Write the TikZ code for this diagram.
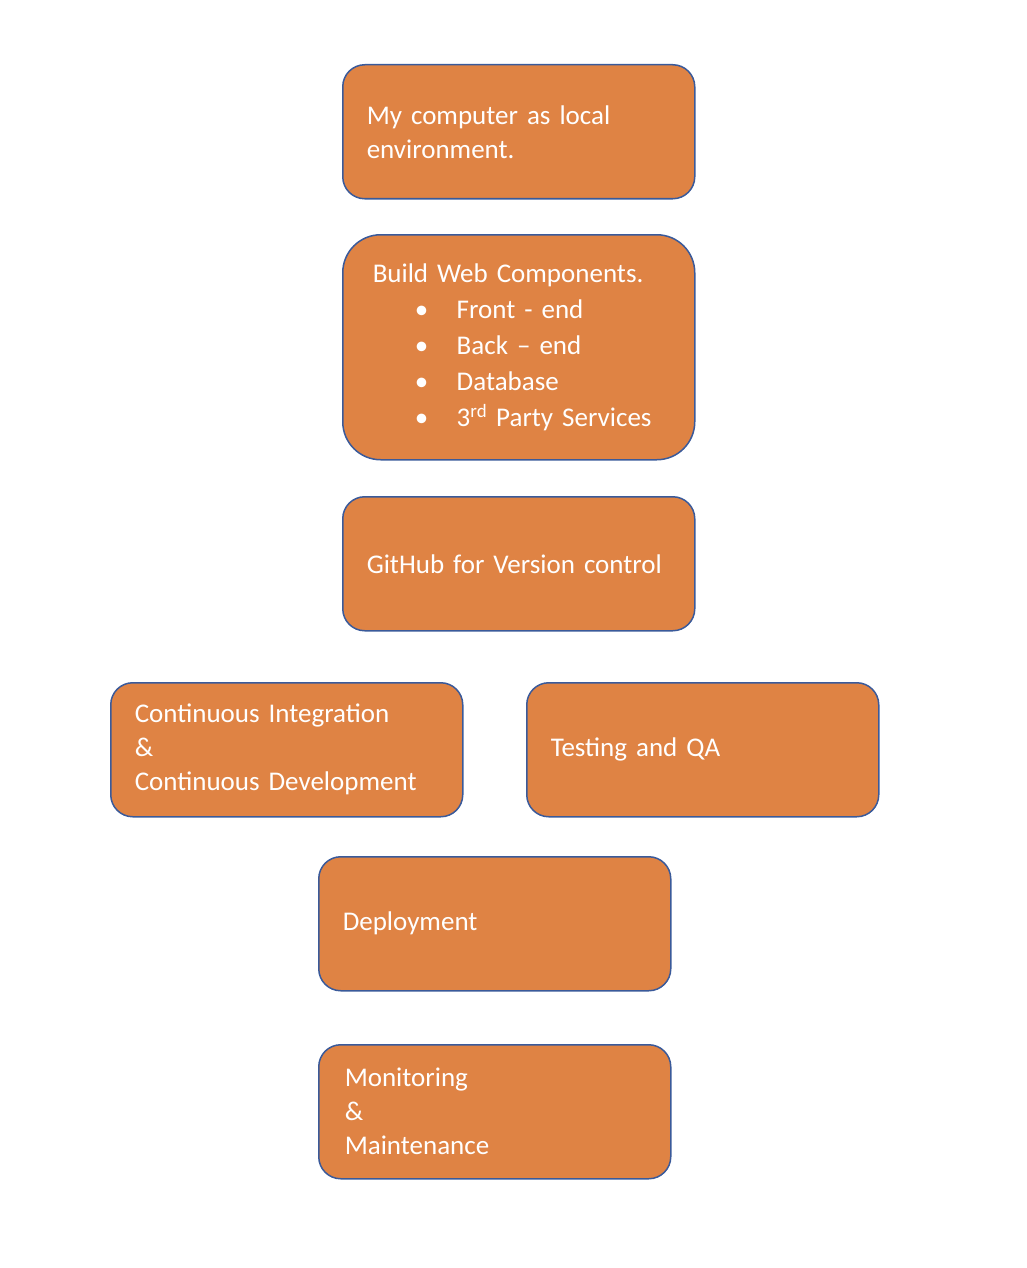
\documentclass[tikz,border=0pt]{standalone}
\usepackage{fontspec}
\setmainfont[WordSpace=0.8]{Carlito}
\hyphenpenalty=10000
\exhyphenpenalty=10000
\definecolor{boxfill}{HTML}{DF8344}
\definecolor{boxline}{HTML}{3A5A9A}
\begin{document}
\begin{tikzpicture}[x=1pt,y=-1pt,
  card/.style={draw=boxline, line width=1.5pt, fill=boxfill, text=white,
    rounded corners=22pt, minimum width=352pt, minimum height=134pt,
    inner xsep=24pt, inner ysep=0pt, text width=304pt, align=left,
    font=\fontsize{27}{34}\selectfont, anchor=north west}]
\useasboundingbox (0,0) rectangle (1026,1268);
\node[card] (local) at (342,64) {My computer as local\\environment.};
\node[card, minimum height=225pt, rounded corners=38pt, inner xsep=30pt, text width=292pt,
  font=\fontsize{27}{36}\selectfont] (build) at (342,234) {Build Web Components.\\
  \hspace*{42pt}\makebox[42pt][l]{•}Front - end\\
  \hspace*{42pt}\makebox[42pt][l]{•}Back – end\\
  \hspace*{42pt}\makebox[42pt][l]{•}Database\\
  \hspace*{42pt}\makebox[42pt][l]{•}3\textsuperscript{rd} Party Services};
\node[card] (git) at (342,496) {GitHub for Version control};
\node[card] (cicd) at (110,682) {Continuous Integration\\\&\\Continuous Development};
\node[card] (test) at (526,682) {Testing and QA};
\node[card] (deploy) at (318,856) {Deployment};
\node[card, inner xsep=26pt, text width=300pt] (monitor) at (318,1044) {Monitoring\\\&\\Maintenance};
\end{tikzpicture}
\end{document}
